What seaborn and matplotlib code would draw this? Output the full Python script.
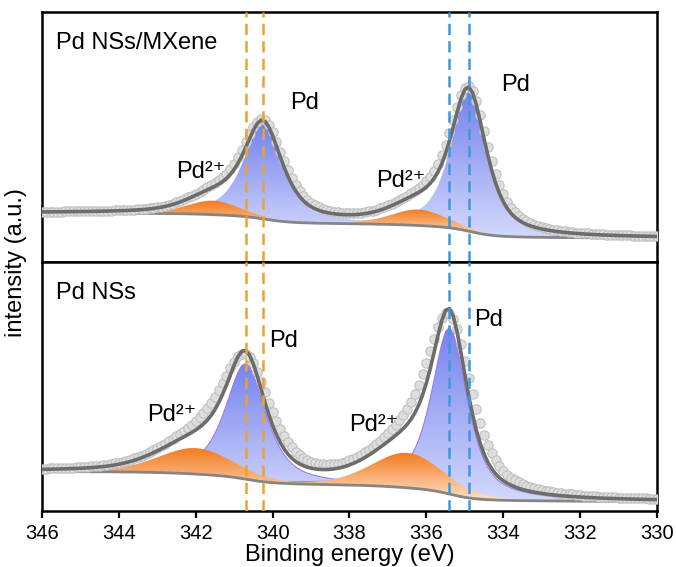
import numpy as np
import matplotlib
matplotlib.use("Agg")
import matplotlib.pyplot as plt
from matplotlib.colors import LinearSegmentedColormap
from matplotlib.patches import PathPatch
import seaborn as sns

sns.set_theme(style="white")
plt.rcParams["font.family"] = ["Liberation Sans", "DejaVu Sans"]
plt.rcParams["text.color"] = "black"
plt.rcParams["axes.labelcolor"] = "black"
plt.rcParams["xtick.color"] = "black"

# Binding-energy grid (eV)
energy = np.arange(346.0, 329.95, -0.1)

panel_labels = ["Pd NSs/MXene", "Pd NSs"]

# Peak order: Pd0 3d3/2, Pd0 3d5/2, Pd2+ 3d3/2, Pd2+ 3d5/2
mx_centers = [340.25, 334.90, 341.55, 336.20]
mx_heights = [95, 140, 14, 16]
mx_fwhm = [1.20, 1.10, 1.60, 1.70]
mx_data_heights = [96, 141, 14, 16]
mx_data_fwhm = [1.32, 1.22, 1.60, 1.70]
mx_background = [49, 24]          # high-BE side, low-BE side

ns_centers = [340.70, 335.40, 342.00, 336.50]
ns_heights = [116, 167, 26, 35]
ns_fwhm = [1.25, 1.10, 2.30, 2.20]
ns_data_heights = [112, 162, 26, 35]
ns_data_fwhm = [1.55, 1.40, 2.30, 2.20]
ns_background = [40, 10]

lorentz_frac = [0.7, 0.7, 0.3, 0.3]

x_ticks = [346, 344, 342, 340, 338, 336, 334, 332, 330]


def pseudo_voigt(x, c, h, fwhm, eta):
    u = (x - c) / (fwhm / 2.0)
    return h * (eta / (1 + u ** 2) + (1 - eta) * np.exp(-np.log(2) * u ** 2))


def components(centers, heights, fwhm):
    return [pseudo_voigt(energy, c, h, w, e)
            for c, h, w, e in zip(centers, heights, fwhm, lorentz_frac)]


def shirley(comps, levels):
    total = np.sum(comps, axis=0)
    # cumulative area from the low-BE end
    cum = np.cumsum(total[::-1])[::-1]
    cum = cum / cum[0]
    return levels[1] + (levels[0] - levels[1]) * cum


blue_cmap = LinearSegmentedColormap.from_list("pd0", ["#d3d9fc", "#7482ee"])
orange_cmap = LinearSegmentedColormap.from_list("pd2", ["#fee3cb", "#f37a1e"])


def gradient_fill(ax, lower, upper, cmap, zorder, edge=None):
    poly = ax.fill_between(energy, lower, upper, facecolor="none",
                           edgecolor="none", zorder=zorder)
    path = poly.get_paths()[0]
    patch = PathPatch(path, transform=ax.transData, facecolor="none",
                      edgecolor="none")
    ax.add_patch(patch)
    grad = np.linspace(1, 0, 256).reshape(-1, 1)
    im = ax.imshow(grad, extent=[346, 330, lower.min(), upper.max()],
                   origin="upper", aspect="auto", cmap=cmap, zorder=zorder,
                   interpolation="bilinear")
    im.set_clip_path(patch)
    if edge is not None:
        ax.plot(energy, upper, color=edge, lw=0.8, zorder=zorder + 0.1)


fig, axes = plt.subplots(2, 1, figsize=(6.76, 5.67), dpi=100, sharex=True)
fig.subplots_adjust(left=0.062, right=0.972, bottom=0.098, top=0.978, hspace=0)

panels = [
    (mx_centers, mx_heights, mx_fwhm, mx_data_heights, mx_data_fwhm, mx_background, None),
    (ns_centers, ns_heights, ns_fwhm, ns_data_heights, ns_data_fwhm, ns_background, "#a07af2"),
]

for ax, label, (cen, hei, fw, dhei, dfw, bgl, edge) in zip(axes, panel_labels, panels):
    comps = components(cen, hei, fw)
    bg = shirley(comps, bgl)
    envelope = bg + np.sum(comps, axis=0)
    dcomps = components(cen, dhei, dfw)
    measured = shirley(dcomps, bgl) + np.sum(dcomps, axis=0)

    # Pd0 components first, Pd2+ drawn over them
    gradient_fill(ax, bg, bg + comps[0], blue_cmap, 2, edge)
    gradient_fill(ax, bg, bg + comps[1], blue_cmap, 2, edge)
    gradient_fill(ax, bg, bg + comps[2], orange_cmap, 3)
    gradient_fill(ax, bg, bg + comps[3], orange_cmap, 3)
    ax.plot(energy, bg, color="#858585", lw=2.0, zorder=4)

    sns.scatterplot(x=energy, y=measured, ax=ax, s=46, color="#dedede",
                    edgecolor="#bcbcbc", linewidth=0.7, zorder=5, legend=False)
    sns.lineplot(x=energy, y=envelope, ax=ax, color="#6c6c6c", lw=2.6,
                 zorder=6, legend=False)

    ax.text(345.64, 219, label, fontsize=17, ha="left", va="center", zorder=9)

    ax.set_ylim(0, 250)
    ax.set_yticks([])
    ax.set_ylabel("")
    for s in ax.spines.values():
        s.set_linewidth(1.8)
        s.set_color("black")

# Dashed guides at the Pd0 doublet positions of both samples
orange_guides = [ns_centers[0], mx_centers[0]]
blue_guides = [ns_centers[1], mx_centers[1]]
for ax in axes:
    for xv in orange_guides:
        ax.axvline(xv, color="#eba230", lw=1.8, ls=(0, (4.5, 2.5)), zorder=8)
    for xv in blue_guides:
        ax.axvline(xv, color="#3d98dc", lw=1.8, ls=(0, (4.5, 2.5)), zorder=8)

top, bot = axes
sup = "Pd\u00b2\u207a"
top.text(339.55, 159, "Pd", fontsize=17, ha="left", va="center", zorder=9)
top.text(334.05, 177, "Pd", fontsize=17, ha="left", va="center", zorder=9)
top.text(342.52, 90, sup, fontsize=17, ha="left", va="center", zorder=9)
top.text(337.30, 81, sup, fontsize=17, ha="left", va="center", zorder=9)
bot.text(340.10, 171, "Pd", fontsize=17, ha="left", va="center", zorder=9)
bot.text(334.75, 192, "Pd", fontsize=17, ha="left", va="center", zorder=9)
bot.text(343.27, 97, sup, fontsize=17, ha="left", va="center", zorder=9)
bot.text(338.00, 87, sup, fontsize=17, ha="left", va="center", zorder=9)

bot.set_xlim(346, 330)
bot.set_xticks(x_ticks)
bot.set_xticklabels([str(t) for t in x_ticks])
bot.set_xticks(np.arange(345, 330, 2), minor=True)
bot.tick_params(axis="x", which="major", direction="out", length=5, width=1.6,
                labelsize=14.5, pad=4, bottom=True, color="black")
bot.tick_params(axis="x", which="minor", direction="out", length=3, width=1.4,
                bottom=True, color="black")
top.tick_params(axis="x", which="both", bottom=False, labelbottom=False)
bot.set_xlabel("Binding energy (eV)", fontsize=17, labelpad=1)
fig.text(0.024, 0.537, "intensity (a.u.)", rotation=90, fontsize=17,
         ha="center", va="center")

fig.savefig("out.png", dpi=100)
